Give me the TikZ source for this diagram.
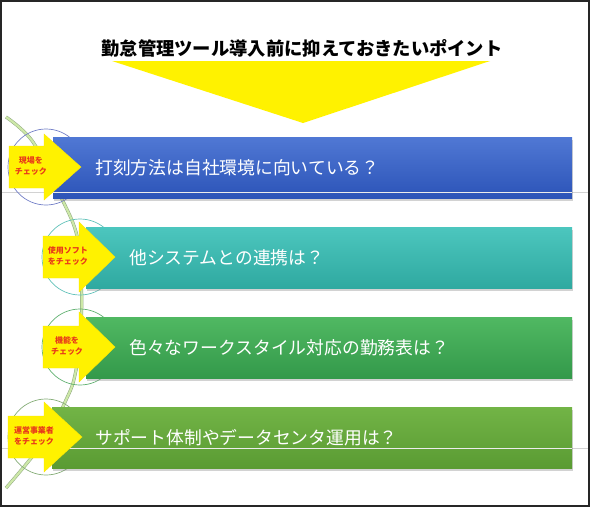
\documentclass[tikz,border=0pt]{standalone}
\usepackage{fontspec}
\setmainfont{Noto Sans CJK JP}
\usepackage{tikz}
\usetikzlibrary{positioning}
\usetikzlibrary{shadows}

\definecolor{blueTop}{HTML}{5078D4}
\definecolor{blueBot}{HTML}{2C54B8}
\definecolor{tealTop}{HTML}{4CC6BE}
\definecolor{tealBot}{HTML}{2FA9A0}
\definecolor{greenTop}{HTML}{50B862}
\definecolor{greenBot}{HTML}{33994A}
\definecolor{oliveTop}{HTML}{72B446}
\definecolor{oliveBot}{HTML}{5A9B33}
\definecolor{ringBlue}{HTML}{7480C8}
\definecolor{ringTeal}{HTML}{62C2BA}
\definecolor{ringGreen}{HTML}{62B272}
\definecolor{ringOlive}{HTML}{86AE78}
\definecolor{chkRed}{HTML}{E8381A}
\definecolor{pathGreen}{HTML}{CDE8A8}
\definecolor{pathEdge}{HTML}{8FA880}

\tikzset{
    bar/.style={anchor=west, minimum height=61pt, inner sep=0pt,
        drop shadow={shadow xshift=1pt, shadow yshift=-2.5pt, opacity=0.35}},
    bartext/.style={text=white, font=\fontsize{17.8}{20}\selectfont, inner sep=0pt},
    hl/.style={white!85!gray, line width=0.8pt},
    edge/.style={gray!35, line width=0.6pt},
    ring/.style={circle, minimum size=76pt, inner sep=0pt, line width=0.7pt},
    chk/.style={fill=yellow, draw=yellow!90!orange, line width=0.4pt},
    chklabel/.style={text=chkRed, align=center, inner sep=0pt,
        font=\bfseries\fontsize{8}{11}\selectfont},
}

\begin{document}
\begin{tikzpicture}[x=1pt, y=-1pt]
    \useasboundingbox (0,0) rectangle (590,507);
    \fill[white] (0,0) rectangle (590,507);

    % title and big arrow
    \fill[yellow] (112,61) -- (490,61) -- (303,123) -- cycle;
    \node(title)[font=\bfseries\fontsize{18.3}{20}\selectfont] at (302,48)
        {勤怠管理ツール導入前に抑えておきたいポイント};

    % guide lines
    \draw[edge] (2,192) -- (588,192);
    \draw[edge] (2,448) -- (588,448);

    % winding path
    \draw[pathEdge, line width=0.5pt, double=pathGreen, double distance=2.2pt]
        plot[smooth, tension=0.6] coordinates {(6,117) (33,142) (60,195) (76,232)
        (81,270) (81,330) (75,375) (66,400) (45,440) (6,488)};

    % rings
    \node(o1)[ring, draw=ringBlue]  at (46,167) {};
    \node(o2)[ring, draw=ringTeal]  at (80,257) {};
    \node(o3)[ring, draw=ringGreen] at (80,347) {};
    \node(o4)[ring, draw=ringOlive] at (46,437) {};

    % bars
    \node(b1)[bar, top color=blueTop, bottom color=blueBot, minimum width=519pt] at (53,167.5) {};
    \node(b2)[bar, top color=tealTop, bottom color=tealBot, minimum width=486pt] at (86,258) {};
    \node(b3)[bar, top color=greenTop, bottom color=greenBot, minimum width=486pt] at (86,348) {};
    \node(b4)[bar, top color=oliveTop, bottom color=oliveBot, minimum width=520pt] at (52,437.5) {};

    \draw[hl] ([yshift=6pt]b1.south west) -- ([yshift=6pt]b1.south east);
    \draw[hl] ([yshift=20pt]b4.south west) -- ([yshift=20pt]b4.south east);

    \node(t1)[bartext, right=42pt of b1.west] {打刻方法は自社環境に向いている？};
    \node(t2)[bartext, right=43pt of b2.west] {他システムとの連携は？};
    \node(t3)[bartext, right=43pt of b3.west] {色々なワークスタイル対応の勤務表は？};
    \node(t4)[bartext, right=43pt of b4.west] {サポート体制やデータセンタ運用は？};

    % check arrows
    \coordinate(h1) at (44,167);
    \coordinate(h2) at (79,257);
    \coordinate(h3) at (79,347);
    \coordinate(h4) at (44,437);
    \filldraw[chk] (h1) ++(-35,-21) -- ++(35,0) -- ++(0,-12) -- ++(37,33)
        -- ++(-37,33) -- ++(0,-12) -- ++(-35,0) -- cycle;
    \filldraw[chk] (h2) ++(-36,-21) -- ++(36,0) -- ++(0,-14) -- ++(36,35)
        -- ++(-36,35) -- ++(0,-14) -- ++(-36,0) -- cycle;
    \filldraw[chk] (h3) ++(-36,-21) -- ++(36,0) -- ++(0,-14) -- ++(36,35)
        -- ++(-36,35) -- ++(0,-14) -- ++(-36,0) -- cycle;
    \filldraw[chk] (h4) ++(-36,-21) -- ++(36,0) -- ++(0,-14) -- ++(38,35)
        -- ++(-38,35) -- ++(0,-14) -- ++(-36,0) -- cycle;

    \node(c1)[chklabel] at (31,166) {現場を\\チェック};
    \node(c2)[chklabel] at (68,256) {使用ソフト\\をチェック};
    \node(c3)[chklabel] at (67,346) {機能を\\チェック};
    \node(c4)[chklabel] at (34,436) {運営事業者\\をチェック};

    % frame
    \draw[gray!30!black, line width=1.4pt] (1,1) rectangle (589,506);
\end{tikzpicture}
\end{document}
